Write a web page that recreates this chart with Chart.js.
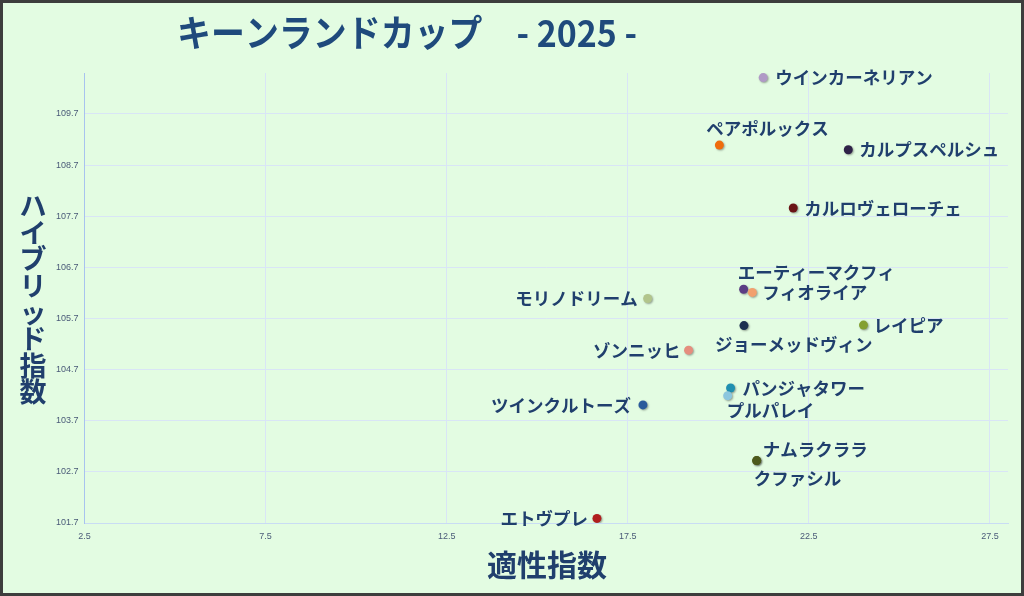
<!DOCTYPE html>
<html lang="ja">
<head>
<meta charset="utf-8">
<title>キーンランドカップ - 2025 -</title>
<script src="https://cdn.jsdelivr.net/npm/chart.js@4/dist/chart.umd.min.js"></script>
<style>
  html, body { margin: 0; padding: 0; background: #e3fce2; }
  #wrap { width: 1024px; height: 596px; }
</style>
</head>
<body>
<div id="wrap"><canvas id="chart" width="1024" height="596"></canvas></div>
<script>
// Données
const horses = ['ウインカーネリアン', 'ペアポルックス', 'カルプスペルシュ', 'カルロヴェローチェ',
  'エーティーマクフィ', 'フィオライア', 'モリノドリーム', 'ジョーメッドヴィン', 'レイピア',
  'ゾンニッヒ', 'パンジャタワー', 'プルパレイ', 'ツインクルトーズ', 'クファシル', 'ナムラクララ', 'エトヴプレ'];
const tekisei = [21.24, 20.03, 23.59, 22.07, 20.70, 20.94, 18.05, 20.71, 24.01,
  19.18, 20.34, 20.26, 17.92, 21.06, 21.06, 16.65];
const hybrid = [110.41, 109.09, 109.00, 107.86, 106.27, 106.21, 106.09, 105.56, 105.57,
  105.08, 104.34, 104.19, 104.01, 102.92, 102.92, 101.79];
const xTicks = [2.5, 7.5, 12.5, 17.5, 22.5, 27.5];
const yTicks = [101.7, 102.7, 103.7, 104.7, 105.7, 106.7, 107.7, 108.7, 109.7];

const pointColors = ['#b09ac6', '#ef6c0c', '#2f2248', '#6a1416', '#5b3d84', '#f2a06e', '#b2c58c',
  '#1c2f50', '#84a032', '#e58e7e', '#1f8fb0', '#8cc6de', '#2b5b9b', '#6b7a2a', '#4d5a1c', '#b01e1e'];
// placement des étiquettes : décalage depuis le point et alignement
const labelPlace = [[12, 0, 'left'], [-13, -17, 'left'], [11, 0, 'left'], [11, 0, 'left'],
  [-6, -17, 'left'], [10, 0, 'left'], [-10, 0, 'right'], [-29, 19, 'left'], [10, 0, 'left'],
  [-8, 0, 'right'], [12, 0, 'left'], [-1, 15, 'left'], [-12, 0, 'right'], [-3, 18, 'left'],
  [6, -11, 'left'], [-9, 0, 'right']];

const textColor = '#203f6d';
const jpFont = '"Noto Sans CJK JP", "Noto Sans", sans-serif';

let points = tekisei.map((x, i) => ({ x: x, y: hybrid[i] }));

// Fond, cadre et titres
const decorPlugin = {
  id: 'decor',
  beforeDraw(chart) {
    let ctx = chart.ctx;
    ctx.save();
    ctx.fillStyle = '#e3fce2';
    ctx.fillRect(0, 0, chart.width, chart.height);
    ctx.restore();
  },
  afterDraw(chart) {
    let ctx = chart.ctx;
    ctx.save();
    ctx.fillStyle = '#1f4a7c';
    ctx.textBaseline = 'middle';
    ctx.textAlign = 'left';
    ctx.font = 'bold 37px ' + jpFont;
    ctx.fillText('キーンランドカップ　- 2025 -', 177, 33, 460);

    // titre de l'axe X
    ctx.fillStyle = textColor;
    ctx.textAlign = 'center';
    ctx.font = 'bold 30px ' + jpFont;
    ctx.fillText('適性指数', 547, 565);

    // titre de l'axe Y, caractères empilés
    ctx.font = 'bold 27px ' + jpFont;
    let yLabel = Array.from('ハイブリッド指数');
    yLabel.forEach((c, i) => {
      ctx.fillText(c, 33, 206 + i * 26.6);
    });

    ctx.strokeStyle = '#3d3d3d';
    ctx.lineWidth = 3;
    ctx.strokeRect(1.5, 1.5, chart.width - 3, chart.height - 3);
    ctx.restore();
  }
};

// Ombre légère des points + noms des chevaux
const labelPlugin = {
  id: 'horseLabels',
  beforeDatasetsDraw(chart) {
    let ctx = chart.ctx;
    ctx.save();
    ctx.shadowColor = 'rgba(0,0,0,0.35)';
    ctx.shadowBlur = 2;
    ctx.shadowOffsetX = 1;
    ctx.shadowOffsetY = 1;
  },
  afterDatasetsDraw(chart) {
    let ctx = chart.ctx;
    ctx.restore();
    let meta = chart.getDatasetMeta(0);
    ctx.save();
    ctx.fillStyle = textColor;
    ctx.font = 'bold 17.5px ' + jpFont;
    ctx.textBaseline = 'middle';
    meta.data.forEach((pt, i) => {
      let p = labelPlace[i];
      ctx.textAlign = p[2];
      ctx.fillText(horses[i], pt.x + p[0], pt.y + p[1]);
    });
    ctx.restore();
  }
};

let ctx = document.getElementById('chart').getContext('2d');
let myChart = new Chart(ctx, {
  type: 'scatter',
  data: {
    datasets: [{
      label: 'キーンランドカップ',
      data: points,
      pointBackgroundColor: pointColors,
      pointBorderWidth: 0,
      pointRadius: 4.5,
      pointHoverRadius: 4.5
    }]
  },
  options: {
    responsive: false,
    animation: false,
    events: [],
    layout: {
      padding: { top: 73, right: 16, left: 0, bottom: 0 }
    },
    scales: {
      x: {
        type: 'linear',
        min: 2.5,
        max: 28,
        afterBuildTicks: scale => { scale.ticks = xTicks.map(v => ({ value: v })); },
        afterFit: scale => { scale.height = 73; },
        grid: { color: '#d9e5f6', drawTicks: false },
        border: { color: '#c9dcf4' },
        ticks: {
          padding: 8,
          color: '#4a5a78',
          font: { family: '"Liberation Sans Narrow", "Liberation Sans", sans-serif', size: 9 },
          callback: v => v.toFixed(1)
        }
      },
      y: {
        type: 'linear',
        min: 101.7,
        max: 110.5,
        afterBuildTicks: scale => { scale.ticks = yTicks.map(v => ({ value: v })); },
        afterFit: scale => { scale.width = 84.5; },
        grid: { color: '#d9e5f6', drawTicks: false },
        border: { color: '#a8c3ef' },
        ticks: {
          padding: 6,
          color: '#4a5a78',
          font: { family: '"Liberation Sans Narrow", "Liberation Sans", sans-serif', size: 9 },
          callback: v => v.toFixed(1)
        }
      }
    },
    plugins: {
      legend: { display: false },
      title: { display: false },
      tooltip: { enabled: false }
    }
  },
  plugins: [decorPlugin, labelPlugin]
});
</script>
</body>
</html>
